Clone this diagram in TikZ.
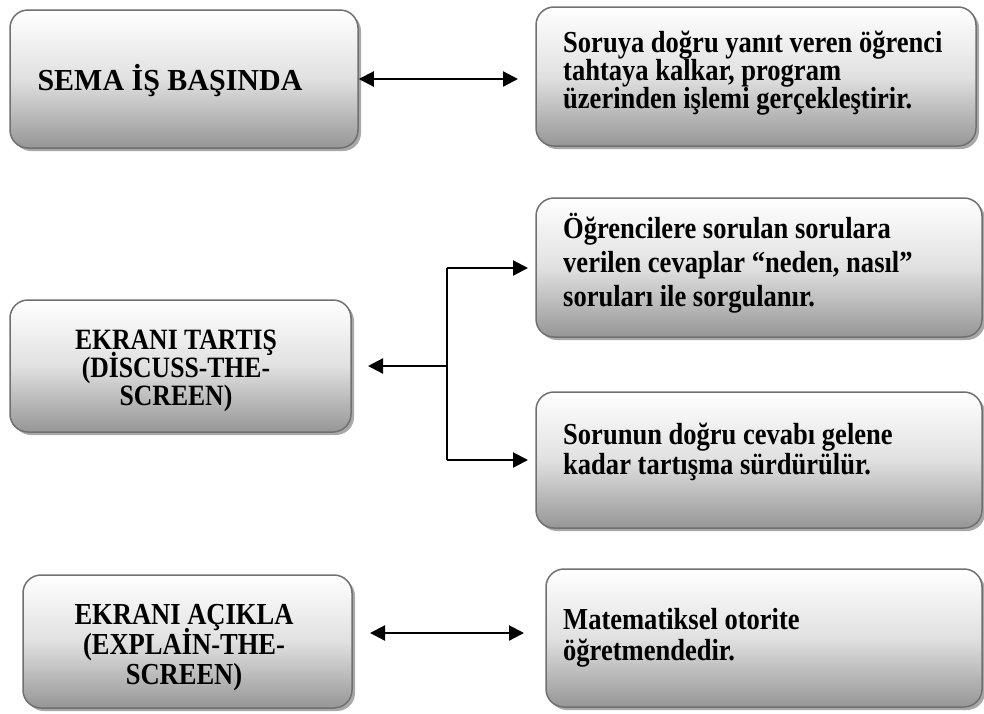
\documentclass[tikz,border=0pt]{standalone}
\usepackage{fontspec}
\setmainfont{Liberation Serif}[FakeStretch=0.87]
\usetikzlibrary{arrows.meta,shadows,positioning}
\definecolor{boxedge}{HTML}{707070}
\definecolor{boxbot}{HTML}{969696}
\definecolor{shadowgray}{HTML}{A8A8A8}
\newcommand{\tfontsz}[2]{\bfseries\fontsize{#1}{#2}\selectfont\lineskiplimit=-40pt\lineskip=0pt}
\newcommand{\tfont}[1]{\tfontsz{30.5}{#1}}
\tikzset{
  gbox/.style={draw=boxedge, line width=1.5pt, rounded corners=18pt,
    top color=white, bottom color=boxbot, middle color=black!12,
    drop shadow={shadow xshift=3pt, shadow yshift=-3pt, fill=shadowgray, opacity=1},
    inner sep=0pt},
  txt/.style={font=\tfont{30.5}, inner sep=0pt, align=left},
  ctxt/.style={font=\tfont{30.5}, inner sep=0pt, align=center},
  conn/.style={line width=2.2pt, black},
  tipA/.style={-{Triangle[length=15pt,width=15pt]}},
  tipAB/.style={{Triangle[length=15pt,width=15pt]}-{Triangle[length=15pt,width=15pt]}},
}
\begin{document}
\begin{tikzpicture}[x=1pt,y=-1pt]
\useasboundingbox (0,0) rectangle (984,713);
% boxes
\node[gbox, minimum width=348pt, minimum height=138pt] (b1) at (184,79) {};
\node[gbox, minimum width=440pt, minimum height=139pt] (b2) at (756,76.5) {};
\node[gbox, minimum width=446pt, minimum height=139pt] (b3) at (759,267.5) {};
\node[gbox, minimum width=446pt, minimum height=136pt] (b4) at (759,460) {};
\node[gbox, minimum width=341pt, minimum height=132pt] (b5) at (180.5,366) {};
\node[gbox, minimum width=329pt, minimum height=133pt] (b6) at (187.5,641.5) {};
\node[gbox, minimum width=436pt, minimum height=138pt] (b7) at (764,638) {};
% texts
\node[ctxt] (t1) at (170,81) {\scalebox{1.13}[1]{SEMA İŞ BAŞINDA}};
\node[txt, font=\tfont{28}, anchor=west] (t2) at (563,73)
  {Soruya doğru yanıt veren öğrenci\\tahtaya kalkar, program\\üzerinden işlemi gerçekleştirir.};
\node[txt, font=\tfont{34}, anchor=west] (t3) at (563,263)
  {Öğrencilere sorulan sorulara\\verilen cevaplar “neden, nasıl”\\soruları ile sorgulanır.};
\node[txt, font=\tfont{30}, anchor=west] (t4) at (563,452)
  {Sorunun doğru cevabı gelene\\kadar tartışma sürdürülür.};
\node[ctxt, font={\tfontsz{29.5}{28}}] (t5) at (176,371)
  {EKRANI TARTIŞ\\(DİSCUSS-THE-\\SCREEN)};
\node[ctxt, font=\tfont{30}] (t6) at (184,648)
  {EKRANI AÇIKLA\\(EXPLAİN-THE-\\SCREEN)};
\node[txt, font=\tfont{31}, anchor=west] (t7) at (563,638)
  {Matematiksel otorite\\öğretmendedir.};
% connectors
\coordinate (e1) at (518,79);
\draw[conn, tipAB] (b1.east) -- (e1);
\coordinate (j) at (447,366);
\coordinate (jt) at (447,268);
\coordinate (jb) at (447,460);
\coordinate (e5) at (368,366);
\coordinate (e3) at (528,268);
\coordinate (e4) at (528,460);
\draw[conn] (jt) -- (jb);
\draw[conn, tipA] (j) -- (e5);
\draw[conn, tipA] (jt) -- (e3);
\draw[conn, tipA] (jb) -- (e4);
\coordinate (e6) at (370,633);
\coordinate (e7) at (524,633);
\draw[conn, tipAB] (e6) -- (e7);
\end{tikzpicture}
\end{document}
